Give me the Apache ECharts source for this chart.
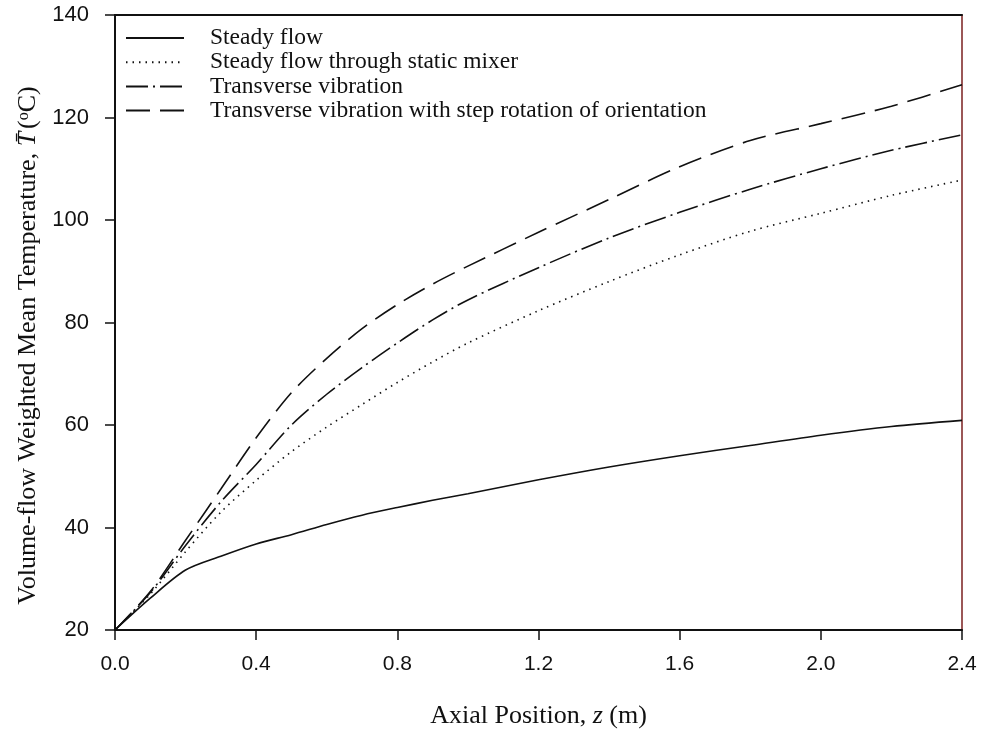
<!DOCTYPE html>
<html>
<head>
<meta charset="utf-8">
<script src="https://cdn.jsdelivr.net/npm/echarts@6/dist/echarts.min.js"></script>
<style>
  html, body { margin: 0; padding: 0; background: #fff; }
  #chart { width: 984px; height: 732px; }
</style>
</head>
<body>
<div id="chart"></div>
<script>
// Axial positions (m) at which the temperatures are sampled
const zPos = [0, 0.1, 0.2, 0.3, 0.4, 0.5, 0.6, 0.7, 0.8, 0.9, 1.0, 1.2, 1.4, 1.6, 1.8, 2.0, 2.2, 2.4];

// Volume-flow weighted mean temperature (°C) for each case
const steadyFlow      = [20, 26.2, 31.7, 34.4, 36.8, 38.6, 40.6, 42.4, 43.9, 45.3, 46.6, 49.3, 51.8, 54.0, 56.0, 58.0, 59.7, 60.9];
const staticMixer     = [20, 27.0, 35.3, 43.0, 49.2, 54.8, 59.6, 64.0, 68.3, 72.3, 76.0, 82.3, 88.0, 93.2, 97.8, 101.3, 104.8, 107.8];
const transverseVib   = [20, 27.3, 36.5, 45.0, 52.3, 60.0, 66.0, 71.2, 76.0, 80.5, 84.4, 90.7, 96.5, 101.5, 106.0, 110.0, 113.6, 116.6];
const stepRotation    = [20, 27.5, 37.5, 47.5, 57.5, 66.3, 73.0, 78.8, 83.5, 87.5, 91.0, 97.6, 104.0, 110.4, 115.5, 118.8, 122.2, 126.4];

const seriesNames = [
  'Steady flow',
  'Steady flow through static mixer',
  'Transverse vibration',
  'Transverse vibration with step rotation of orientation'
];

const xTicks = { min: 0, max: 2.4, step: 0.4 };
const yTicks = { min: 20, max: 140, step: 20 };

const pairs = vals => zPos.map((z, i) => [z, vals[i]]);

const ink = '#111';
const serif = '"Liberation Serif", "DejaVu Serif", serif';
const sans = '"Liberation Sans", Arial, sans-serif';

function lineSeries(name, vals, type, width) {
  return {
    name,
    type: 'line',
    data: pairs(vals),
    smooth: 0.3,
    symbol: 'none',
    color: ink,
    lineStyle: { color: ink, width: width, type: type },
    emphasis: { disabled: true },
    animation: false
  };
}

const chart = echarts.init(document.getElementById('chart'), null, { renderer: 'canvas' });

chart.setOption({
  backgroundColor: '#fff',
  animation: false,
  grid: { left: 115, right: 22, top: 15, bottom: 102, containLabel: false, outerBoundsMode: 'none' },
  legend: {
    orient: 'vertical',
    left: 120,
    top: 21,
    itemWidth: 58,
    itemHeight: 14,
    itemGap: 0.2,
    selectedMode: false,
    itemStyle: { opacity: 0 },
    textStyle: {
      fontFamily: serif,
      fontSize: 23.5,
      color: ink,
      lineHeight: 22.3,
      padding: [0, 0, 0, 21]
    },
    data: seriesNames
  },
  xAxis: [{
    type: 'value',
    min: xTicks.min,
    max: xTicks.max,
    interval: xTicks.step,
    name: '{a|Axial Position, }{i|z}{a| (m)}',
    nameLocation: 'middle',
    nameGap: 73,
    nameTextStyle: {
      rich: {
        a: { fontFamily: serif, fontSize: 26, color: ink },
        i: { fontFamily: serif, fontSize: 26, color: ink, fontStyle: 'italic' }
      }
    },
    axisLine: { show: true, onZero: false, lineStyle: { color: ink, width: 2 } },
    axisTick: { show: true, inside: false, length: 10, lineStyle: { color: ink, width: 1.5 } },
    axisLabel: {
      margin: 24,
      fontFamily: sans,
      fontSize: 21,
      color: ink,
      formatter: v => v.toFixed(1)
    },
    splitLine: { show: false }
  }, {
    type: 'value',
    position: 'top',
    min: xTicks.min,
    max: xTicks.max,
    axisLine: { show: true, onZero: false, lineStyle: { color: ink, width: 2 } },
    axisTick: { show: false },
    axisLabel: { show: false },
    splitLine: { show: false }
  }],
  yAxis: [{
    type: 'value',
    min: yTicks.min,
    max: yTicks.max,
    interval: yTicks.step,
    name: '{a|Volume-flow Weighted Mean Temperature, }{i|T\u0304}{a|(}{s|o}{a|C)}',
    nameLocation: 'middle',
    nameGap: 70,
    nameRotate: 90,
    nameTextStyle: {
      padding: [0, 46, 0, 0],
      rich: {
        a: { fontFamily: serif, fontSize: 26, color: ink },
        i: { fontFamily: serif, fontSize: 26, color: ink, fontStyle: 'italic', padding: [0, 3, 0, 0] },
        s: { fontFamily: serif, fontSize: 16, color: ink, verticalAlign: 'top', padding: [0, 0, 10, 0] }
      }
    },
    axisLine: { show: true, onZero: false, lineStyle: { color: ink, width: 2 } },
    axisTick: { show: true, inside: false, length: 10, lineStyle: { color: ink, width: 1.5 } },
    axisLabel: {
      margin: 26,
      fontFamily: sans,
      fontSize: 22,
      color: ink
    },
    splitLine: { show: false }
  }, {
    type: 'value',
    position: 'right',
    min: yTicks.min,
    max: yTicks.max,
    axisLine: { show: true, onZero: false, lineStyle: { color: '#7a1f1f', width: 1.5 } },
    axisTick: { show: false },
    axisLabel: { show: false },
    splitLine: { show: false }
  }],
  series: [
    lineSeries(seriesNames[0], steadyFlow, 'solid', 1.6),
    lineSeries(seriesNames[1], staticMixer, [1.5, 5], 1.6),
    lineSeries(seriesNames[2], transverseVib, [22, 5, 2, 5], 1.6),
    lineSeries(seriesNames[3], stepRotation, [24, 10], 1.6)
  ]
});
</script>
</body>
</html>
